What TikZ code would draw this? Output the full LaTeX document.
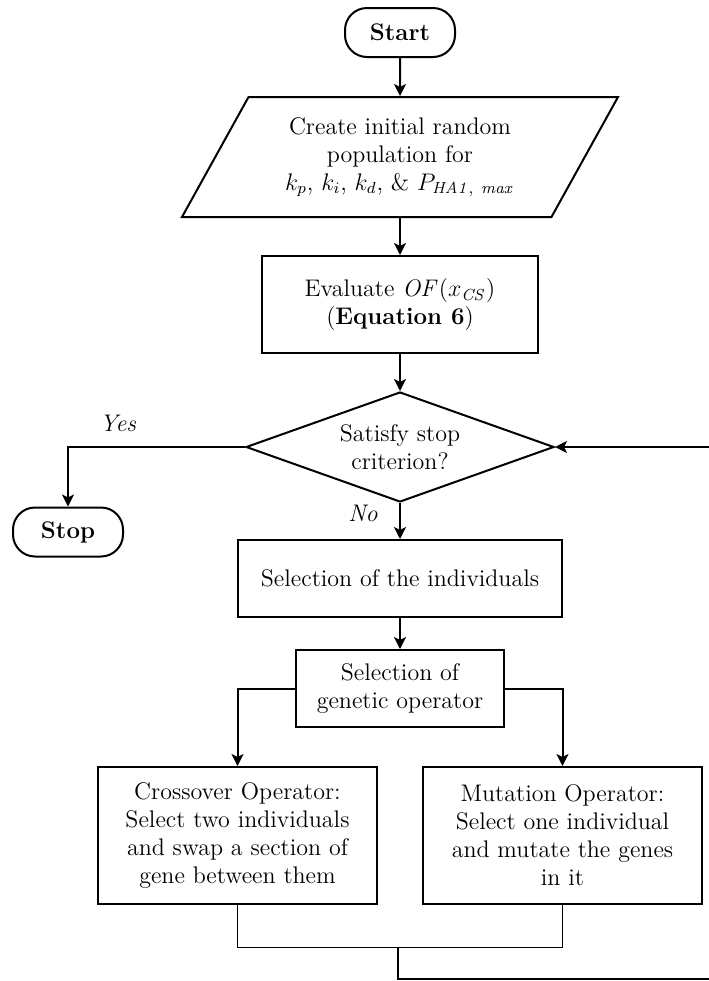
\documentclass[tikz,border=0pt]{standalone}
\usepackage{tikz}
\usetikzlibrary{arrows.meta, shapes.geometric}
\usepackage{amsmath}

\begin{document}
\begin{tikzpicture}[
  x=0.5pt, y=-0.5pt,
  every node/.style={font=\fontsize{12}{14}\selectfont, align=center},
  terminal/.style={
    rectangle, rounded corners=11pt,
    minimum width=55pt, minimum height=24.5pt,
    draw, line width=1pt,
    font=\fontsize{12}{14}\selectfont\bfseries
  },
  process/.style={
    rectangle, draw, line width=1pt,
    minimum width=#1, inner sep=2pt
  },
  io/.style={
    trapezium, trapezium left angle=54.4, trapezium right angle=125.6,
    trapezium stretches body,
    minimum width=218pt, minimum height=60pt,
    draw, line width=1pt
  },
  decision/.style={
    diamond, draw, line width=1pt, shape aspect=2.8,
    minimum width=154pt, minimum height=55pt, inner sep=0pt
  },
  flow/.style={line width=1pt, -{Stealth[length=6pt, width=6pt, inset=1.5pt]}},
  joinline/.style={line width=0.5pt},
]
\useasboundingbox (0,0) rectangle (708,981);

% === MAIN COLUMN ===
\node[terminal] (start) at (400,32.5) {Start};
\node[io] (init) at (400,157) {Create initial random\\ population for\\
  $k_p$, $k_i$, $k_d$, \& $P_{\mathit{HA1,\ max}}$};
\node[process=138pt, minimum height=48.5pt] (eval) at (400,304.5)
  {Evaluate $\mathit{OF}(x_{\mathit{CS}})$\\ (\textbf{Equation 6})};
\node[decision] (check) at (400,447) {Satisfy stop\\ criterion?};
\node[terminal] (stop) at (68,532) {Stop};
\node[process=162pt, minimum height=38.5pt] (select) at (400,578.5)
  {Selection of the individuals};
\node[process=104pt, minimum height=38.5pt] (genop) at (400,688.5)
  {Selection of\\ genetic operator};

% === OPERATORS ===
\node[process=139.5pt, minimum height=68.5pt] (cross) at (237.5,835.5)
  {Crossover Operator:\\ Select two individuals\\ and swap a section of\\ gene between them};
\node[process=139.5pt, minimum height=68.5pt] (mut) at (562.5,835.5)
  {Mutation Operator:\\ Select one individual\\ and mutate the genes\\ in it};

% branch labels
\node (yes) at (118,423) {\textit{Yes}};
\node (no) at (363,513) {\textit{No}};

\coordinate (join) at (398,947);
\coordinate (back) at (710,447);

% === CONNECTORS ===
\draw[flow] (start) -- (init);
\draw[flow] (init) -- (eval);
\draw[flow] (eval) -- (check);
\draw[flow] (check.west) -| (stop);
\draw[flow] (check) -- (select);
\draw[flow] (select) -- (genop);
\draw[flow] (genop.west) -| (cross);
\draw[flow] (genop.east) -| (mut);
\draw[joinline] (cross.south) |- (join) -| (mut.south);
\draw[flow] (join) -- ++(0,32) -| (back) -- (check.east);

\end{tikzpicture}
\end{document}
